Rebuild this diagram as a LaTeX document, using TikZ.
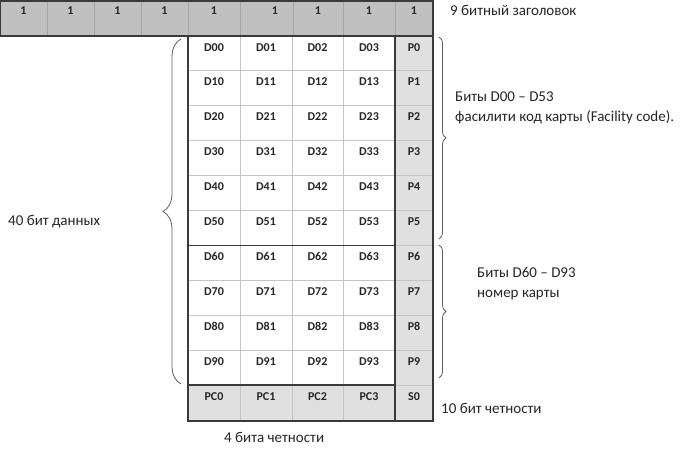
\documentclass[tikz,border=0pt]{standalone}
\usepackage{fontspec}
\setmainfont{Carlito}
\usetikzlibrary{decorations.pathreplacing}
\definecolor{hdrgray}{HTML}{C0C0C0}
\definecolor{pgray}{HTML}{E0E0E0}
\definecolor{gridgray}{HTML}{C4C4C4}
\definecolor{darkline}{HTML}{3A3A3A}
\tikzset{
  cellbit/.style={anchor=north, inner sep=0pt, font=\fontsize{12}{14}\selectfont\bfseries, text=black!85},
  note/.style={anchor=base west, inner sep=0pt, font=\fontsize{15}{18}\selectfont, text=black!85},
  thinline/.style={draw=gridgray, line width=0.8pt},
  thickline/.style={draw=darkline, line width=1.4pt},
  bracedeco/.style={draw=darkline!80, line width=0.8pt, decorate, decoration={brace, amplitude=#1}}
}
\begin{document}
\begin{tikzpicture}[x=1pt,y=-1pt]
\useasboundingbox[fill=white] (0,0) rectangle (680,454);
% header row
\fill[hdrgray] (0,1) rectangle (433,36);
\foreach \x in {47,94,141,188,240,293,343,395}
  \draw[draw=black!35, line width=0.8pt] (\x,1) -- (\x,36);
\draw[thickline] (0,1) rectangle (433,36);
\foreach \x/\n in {23.5/1,70.5/2,117.5/3,164.5/4,214/5,275/6,318/7,369/8,414/9}
  \node[cellbit] (h\n) at (\x,7) {1};
% grid fills
\fill[pgray] (395,36) rectangle (433,421);
\fill[pgray] (188,385) rectangle (395,421);
% thin grid lines
\foreach \i in {1,...,10}
  \draw[thinline] (188,{36+34.9*\i}) -- (433,{36+34.9*\i});
\foreach \x in {240,292,343}
  \draw[thinline] (\x,36) -- (\x,421);
% thick lines
\draw[thickline] (188,36) rectangle (433,421);
\draw[thickline] (395,36) -- (395,421);
\draw[thickline] (188,245.4) -- (395,245.4);
\draw[thickline] (188,385) -- (395,385);
% labels
\foreach \i in {0,...,9}{
  \foreach \j/\x in {0/214,1/266,2/317.5,3/369}
    \node[cellbit] (d\i\j) at (\x,{36+34.9*\i+7}) {D\i\j};
  \node[cellbit] (p\i) at (414,{36+34.9*\i+7}) {P\i};
}
\foreach \j/\x in {0/214,1/266,2/317.5,3/369}
  \node[cellbit] (pc\j) at (\x,392) {PC\j};
\node[cellbit] (s0) at (414,392) {S0};
% braces
\draw[bracedeco=18pt] (181,384) -- (181,39);
\draw[bracedeco=7pt] (439,37) -- (439,239);
\draw[bracedeco=7pt] (439,245) -- (439,378);
% notes
\node[note] (hdr) at (450,16) {9 битный заголовок};
\node[note] (fc1) at (455,102) {Биты D00 – D53};
\node[note] (fc2) at (455,122) {фасилити код карты (Facility code).};
\node[note] (cn1) at (477,278) {Биты D60 – D93};
\node[note] (cn2) at (477,298) {номер карты};
\node[note] (p10) at (441,413) {10 бит четности};
\node[note] (p4) at (224,442) {4 бита четности};
\node[note] (d40) at (8,226) {40 бит данных};
\end{tikzpicture}
\end{document}
